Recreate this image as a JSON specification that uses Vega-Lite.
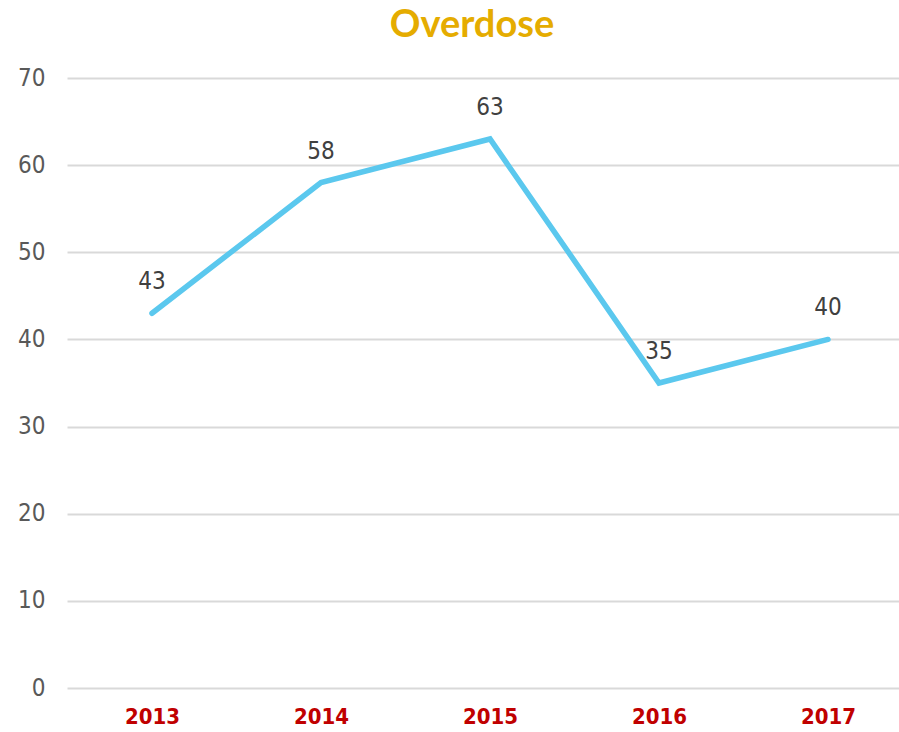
{
  "$schema": "https://vega.github.io/schema/vega-lite/v6.json",
  "width": 832,
  "height": 610,
  "autosize": {"type": "none"},
  "padding": {"left": 67, "top": 78, "right": 0, "bottom": 44},
  "background": "white",
  "config": {"view": {"stroke": null}},
  "title": {
    "text": "Overdose",
    "font": "Lato",
    "fontSize": 38,
    "fontWeight": "bold",
    "color": "#E5AC00",
    "anchor": "middle",
    "dx": -11,
    "offset": 21
  },
  "data": {
    "values": [
      {"year": 2013, "value": 43},
      {"year": 2014, "value": 58},
      {"year": 2015, "value": 63},
      {"year": 2016, "value": 35},
      {"year": 2017, "value": 40}
    ]
  },
  "encoding": {
    "x": {
      "field": "year",
      "type": "quantitative",
      "scale": {"domain": [2012.497, 2017.42], "nice": false, "zero": false},
      "axis": {
        "title": null,
        "values": [2013, 2014, 2015, 2016, 2017],
        "format": "d",
        "labelAngle": 0,
        "domain": false,
        "ticks": false,
        "grid": false,
        "labelFont": "DejaVu Sans Condensed",
        "labelFontSize": 22,
        "labelFontWeight": "bold",
        "labelColor": "#C00000",
        "labelPadding": 18,
        "labelOverlap": false,
        "labelFlush": false
      }
    },
    "y": {
      "field": "value",
      "type": "quantitative",
      "scale": {"domain": [0, 70]},
      "axis": {
        "title": null,
        "values": [0, 10, 20, 30, 40, 50, 60, 70],
        "domain": false,
        "ticks": false,
        "grid": true,
        "gridColor": "#D9D9D9",
        "gridWidth": 2,
        "labelFont": "DejaVu Sans Condensed",
        "labelFontSize": 24,
        "labelColor": "#595959",
        "labelPadding": 22
      }
    }
  },
  "layer": [
    {
      "mark": {"type": "line", "color": "#5BC8EE", "strokeWidth": 5.5, "strokeCap": "round", "strokeJoin": "miter"}
    },
    {
      "mark": {"type": "text", "dy": -31, "baseline": "middle", "font": "DejaVu Sans Condensed", "fontSize": 24, "color": "#404040"},
      "encoding": {"text": {"field": "value", "type": "quantitative"}}
    }
  ]
}
